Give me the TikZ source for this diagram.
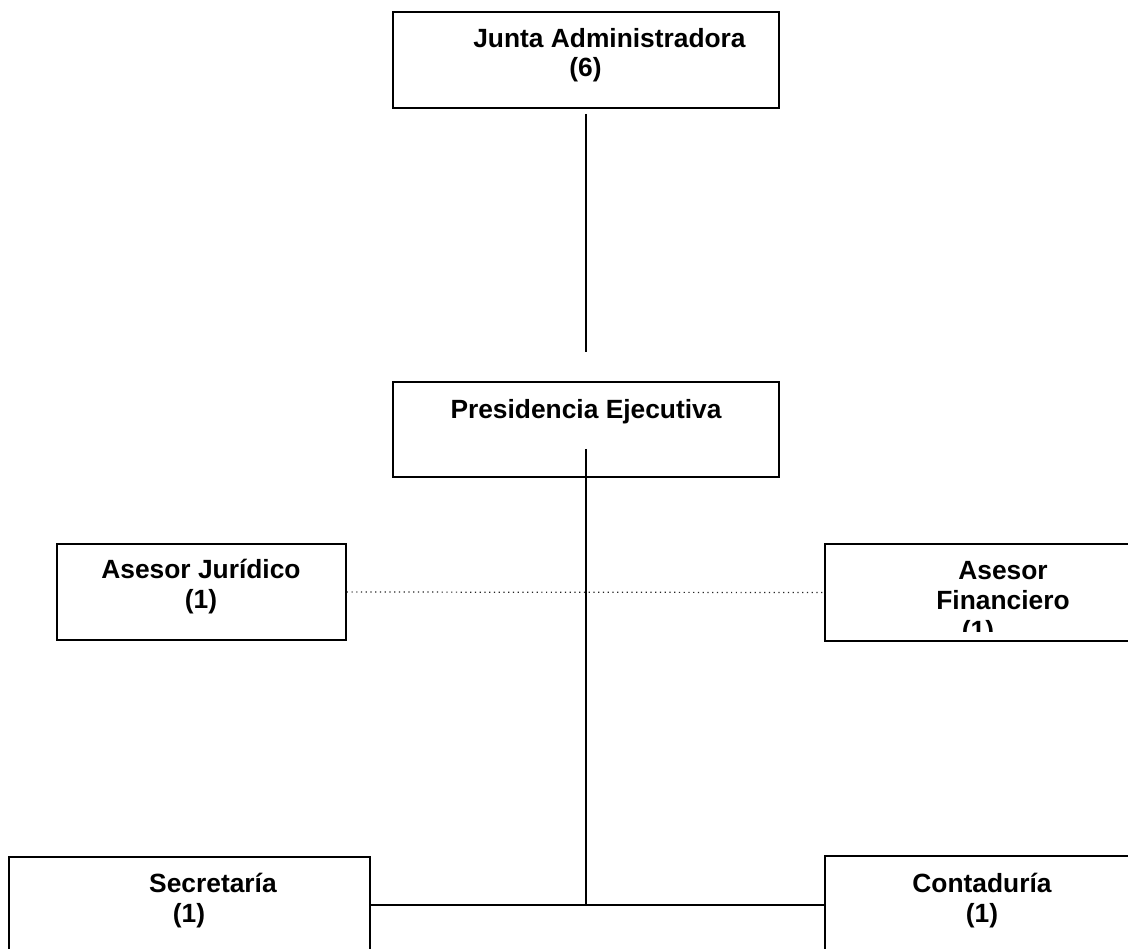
\documentclass[tikz,border=0pt]{standalone}
\usepackage{fontspec}
\setmainfont{Liberation Sans}
\usetikzlibrary{positioning, calc}

\begin{document}
\begin{tikzpicture}[x=0.02cm, y=-0.02cm,
  box/.style={draw, line width=0.9pt, inner sep=0pt},
  lbl/.style={font=\fontsize{15}{17}\selectfont\bfseries, align=center, inner sep=0pt},
  link/.style={line width=0.75pt}]

% page frame (the right and bottom boxes run off the edge)
\useasboundingbox (0,0) rectangle (1128,948);
\clip (0,0) rectangle (1128,948);

% --- Boxes ---
\node[box, minimum width=7.72cm, minimum height=1.92cm] (junta) at (586,60) {};
\node[box, minimum width=7.72cm, minimum height=1.90cm] (pres) at (586,429.5) {};
\node[box, minimum width=5.78cm, minimum height=1.92cm] (jur) at (201.5,592) {};
\node[box, minimum width=6.30cm, minimum height=1.94cm] (fin) at (982.5,592.5) {};
\node[box, minimum width=7.22cm, minimum height=2.06cm] (sec) at (189.5,908.5) {};
\node[box, minimum width=6.30cm, minimum height=2.08cm] (cont) at (982.5,908) {};

% --- Labels ---
\node[lbl] (juntaT) at (585.5,55.2) {\hspace*{27.3pt}Junta Administradora\\(6)};
\node[lbl, anchor=base] (presT) at (586,418) {Presidencia Ejecutiva};
\node[lbl] (jurT) at (201,586.5) {Asesor Jurídico\\(1)};
\begin{scope}
  \clip (825,544) rectangle (1128,631);
  \node[lbl] (finT) at (1003,603.3) {Asesor\\Financiero\\(1)\hspace*{28.5pt}};
\end{scope}
\node[lbl] (secT) at (189,900.2) {\hspace*{27.3pt}Secretaría\\(1)};
\node[lbl] (contT) at (982,900.2) {Contaduría\\(1)};

% --- Connectors ---
\coordinate (hub) at (586,905);
\draw[link] ($(junta.south)+(0,5)$) -- ($(pres.north)+(0,-29)$);
\draw[dotted, line width=0.7pt, black!85] (jur.east) -- (fin.west);
\draw[link] ($(pres.south)+(0,-29)$) -- (hub);
\draw[link] (hub -| sec.east) -- (hub -| cont.west);

\end{tikzpicture}
\end{document}
